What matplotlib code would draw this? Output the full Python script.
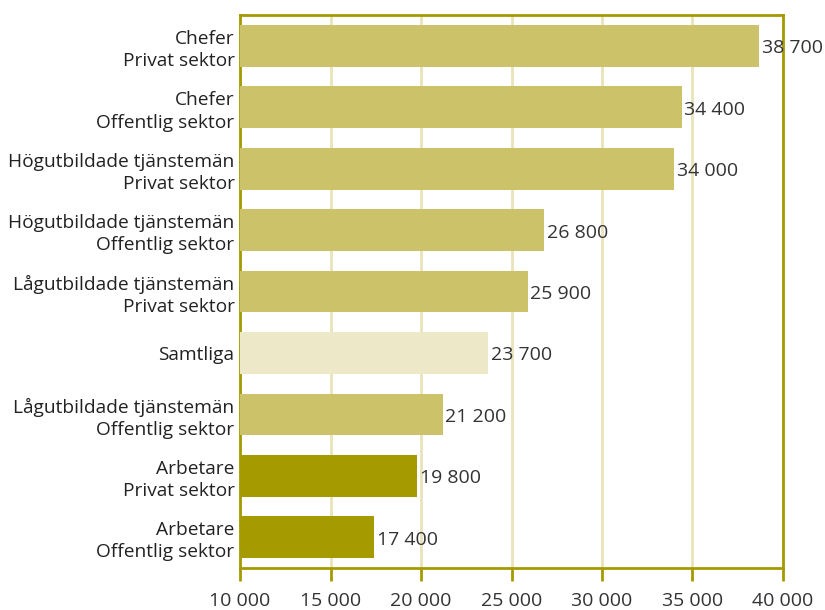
import matplotlib
matplotlib.use('Agg')
import matplotlib.pyplot as plt
from matplotlib.ticker import FuncFormatter

# data, top to bottom
labels = ['Chefer\nPrivat sektor', 'Chefer\nOffentlig sektor',
          'Högutbildade tjänstemän\nPrivat sektor', 'Högutbildade tjänstemän\nOffentlig sektor',
          'Lågutbildade tjänstemän\nPrivat sektor', 'Samtliga',
          'Lågutbildade tjänstemän\nOffentlig sektor', 'Arbetare\nPrivat sektor',
          'Arbetare\nOffentlig sektor']
values = [38700, 34400, 34000, 26800, 25900, 23700, 21200, 19800, 17400]
groups = ['t', 't', 't', 't', 't', 's', 't', 'a', 'a']
xticks = [10000, 15000, 20000, 25000, 30000, 35000, 40000]

olive = '#A59B00'
col = {'t': '#CBC26A', 's': '#ECE8C8', 'a': olive}

plt.rcParams['font.family'] = ['Open Sans', 'DejaVu Sans']

def fmt(v, pos=None):
    return f'{int(v):,}'.replace(',', ' ')

fig = plt.figure(figsize=(8.25, 6.1), dpi=100)
ax = fig.add_axes([0.291, 0.069, 0.658, 0.906])

y = list(range(len(values)))
ax.barh(y, [v - 10000 for v in values], left=10000, height=0.68,
        color=[col[g] for g in groups], zorder=3)
for yi, v in zip(y, values):
    ax.text(v + 150, yi + 0.04, fmt(v), va='center', ha='left', fontsize=14, color='#333333', zorder=4)

ax.set_xlim(10000, 40000)
ax.set_ylim(8.5, -0.5)
ax.set_xticks(xticks)
ax.xaxis.set_major_formatter(FuncFormatter(fmt))
ax.set_yticks(y)
ax.set_yticklabels(labels, fontsize=13.8, color='#222222', linespacing=1.3)
ax.tick_params(axis='y', length=0, pad=4)
ax.tick_params(axis='x', length=9, width=2, color=olive, labelsize=14,
               labelcolor='#333333', pad=8)
ax.grid(axis='x', color='#E8E3B8', linewidth=2, zorder=0)
for s in ax.spines.values():
    s.set_color(olive)
    s.set_linewidth(2)

fig.savefig('out.png', dpi=100)
